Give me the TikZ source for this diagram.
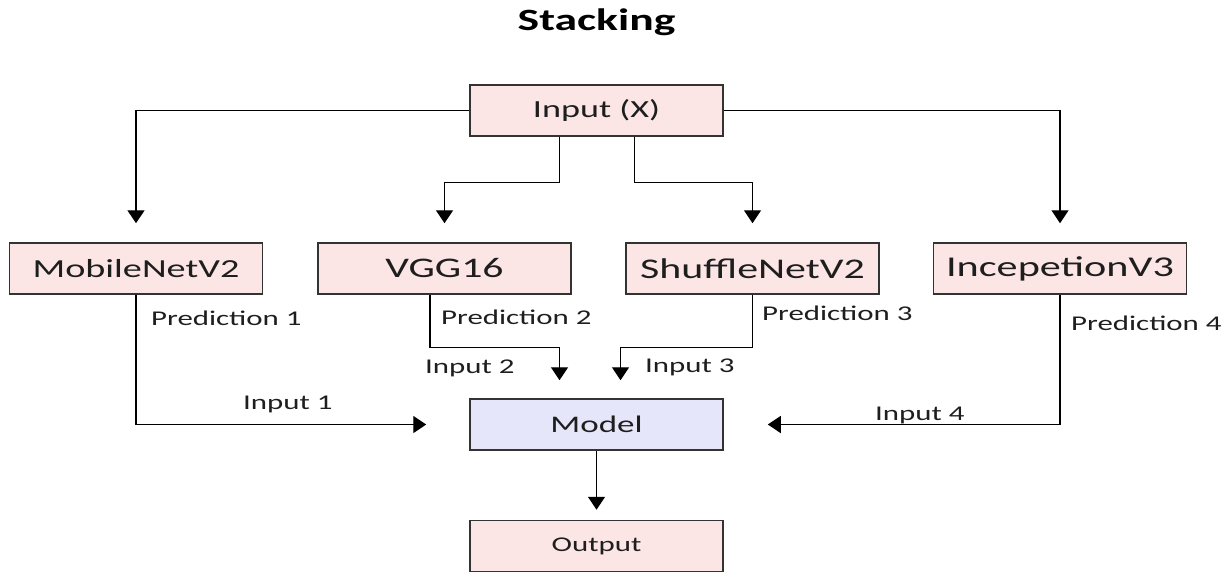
\documentclass[tikz,border=0pt]{standalone}
\usepackage{fontspec}
\newfontfamily\lbl{Carlito}[FakeStretch=1.47]
\usetikzlibrary{arrows.meta}
\definecolor{boxpink}{RGB}{252,229,229}
\definecolor{boxblue}{RGB}{230,230,250}
\definecolor{edge}{RGB}{51,51,51}
\definecolor{ink}{RGB}{30,30,30}
\newcommand{\fsz}[1]{\lbl\fontsize{#1}{#1}\selectfont}
\begin{document}
\begin{tikzpicture}[x=1pt,y=-1pt,
  blk/.style={draw=edge, line width=1.5pt, minimum width=253pt, minimum height=51pt,
    inner sep=0pt, text=ink},
  pinkblk/.style={blk, fill=boxpink},
  blueblk/.style={blk, fill=boxblue},
  arr/.style={draw=black, line width=1.4pt, -{Triangle[width=17pt,length=13pt]}},
  lab/.style={anchor=base west, inner sep=0pt, text=ink, font=\fsz{21}}]
\useasboundingbox (0,0) rectangle (1229,573);

% title
\node[anchor=base, inner sep=0pt, text=black, font=\fsz{31}\bfseries] (title) at (596.5,30) {Stacking};

% boxes
\node[pinkblk, font=\fsz{24.6}] (in)  at (596.5,110.5) {Input (X)};
\node[pinkblk, font=\fsz{26}]   (mob) at (136,268.5)   {MobileNetV2};
\node[pinkblk, font=\fsz{28.4}] (vgg) at (444.5,268.5) {VGG16};
\node[pinkblk, font=\fsz{28.5}] (shf) at (752.5,268.5) {ShuffleNetV2};
\node[pinkblk, font=\fsz{28.7}] (inc) at (1060,268.5)  {IncepetionV3};
\node[blueblk, font=\fsz{23.8}] (mdl) at (596.5,424.5) {Model};
\node[pinkblk, font=\fsz{21}]   (out) at (596.5,546)   {Output};

% input fan-out
\draw[arr] (in.west) -| ([yshift=19pt]mob.north);
\draw[arr] (in.east) -| ([yshift=19pt]inc.north);
\draw[arr] ([xshift=-37pt]in.south) -- ++(0,45.5) -| ([yshift=19pt]vgg.north);
\draw[arr] ([xshift=38pt]in.south) -- ++(0,45.5) -| ([yshift=19pt]shf.north);

% predictions into the model
\draw[arr] (mob.south) |- ([xshift=-43pt]mdl.west);
\draw[arr] (inc.south) |- ([xshift=44pt]mdl.east);
\draw[arr] ([xshift=-14.5pt]vgg.south) -- ++(0,53) -| ([xshift=-37pt,yshift=18pt]mdl.north);
\draw[arr] (shf.south) -- ++(0,53) -| ([xshift=24pt,yshift=18pt]mdl.north);

% model to output
\draw[arr] (mdl.south) -- ([yshift=10pt]out.north);

% edge labels
\node[lab] (p1) at (151,325)   {Prediction 1};
\node[lab] (p2) at (441,324.5) {Prediction 2};
\node[lab] (p3) at (762,320.5) {Prediction 3};
\node[lab] (p4) at (1071,330.5) {Prediction 4};
\node[lab] (i1) at (243,409.5) {Input 1};
\node[lab] (i2) at (425,373.5) {Input 2};
\node[lab] (i3) at (645,372.5) {Input 3};
\node[lab] (i4) at (875,420)   {Input 4};
\end{tikzpicture}
\end{document}
